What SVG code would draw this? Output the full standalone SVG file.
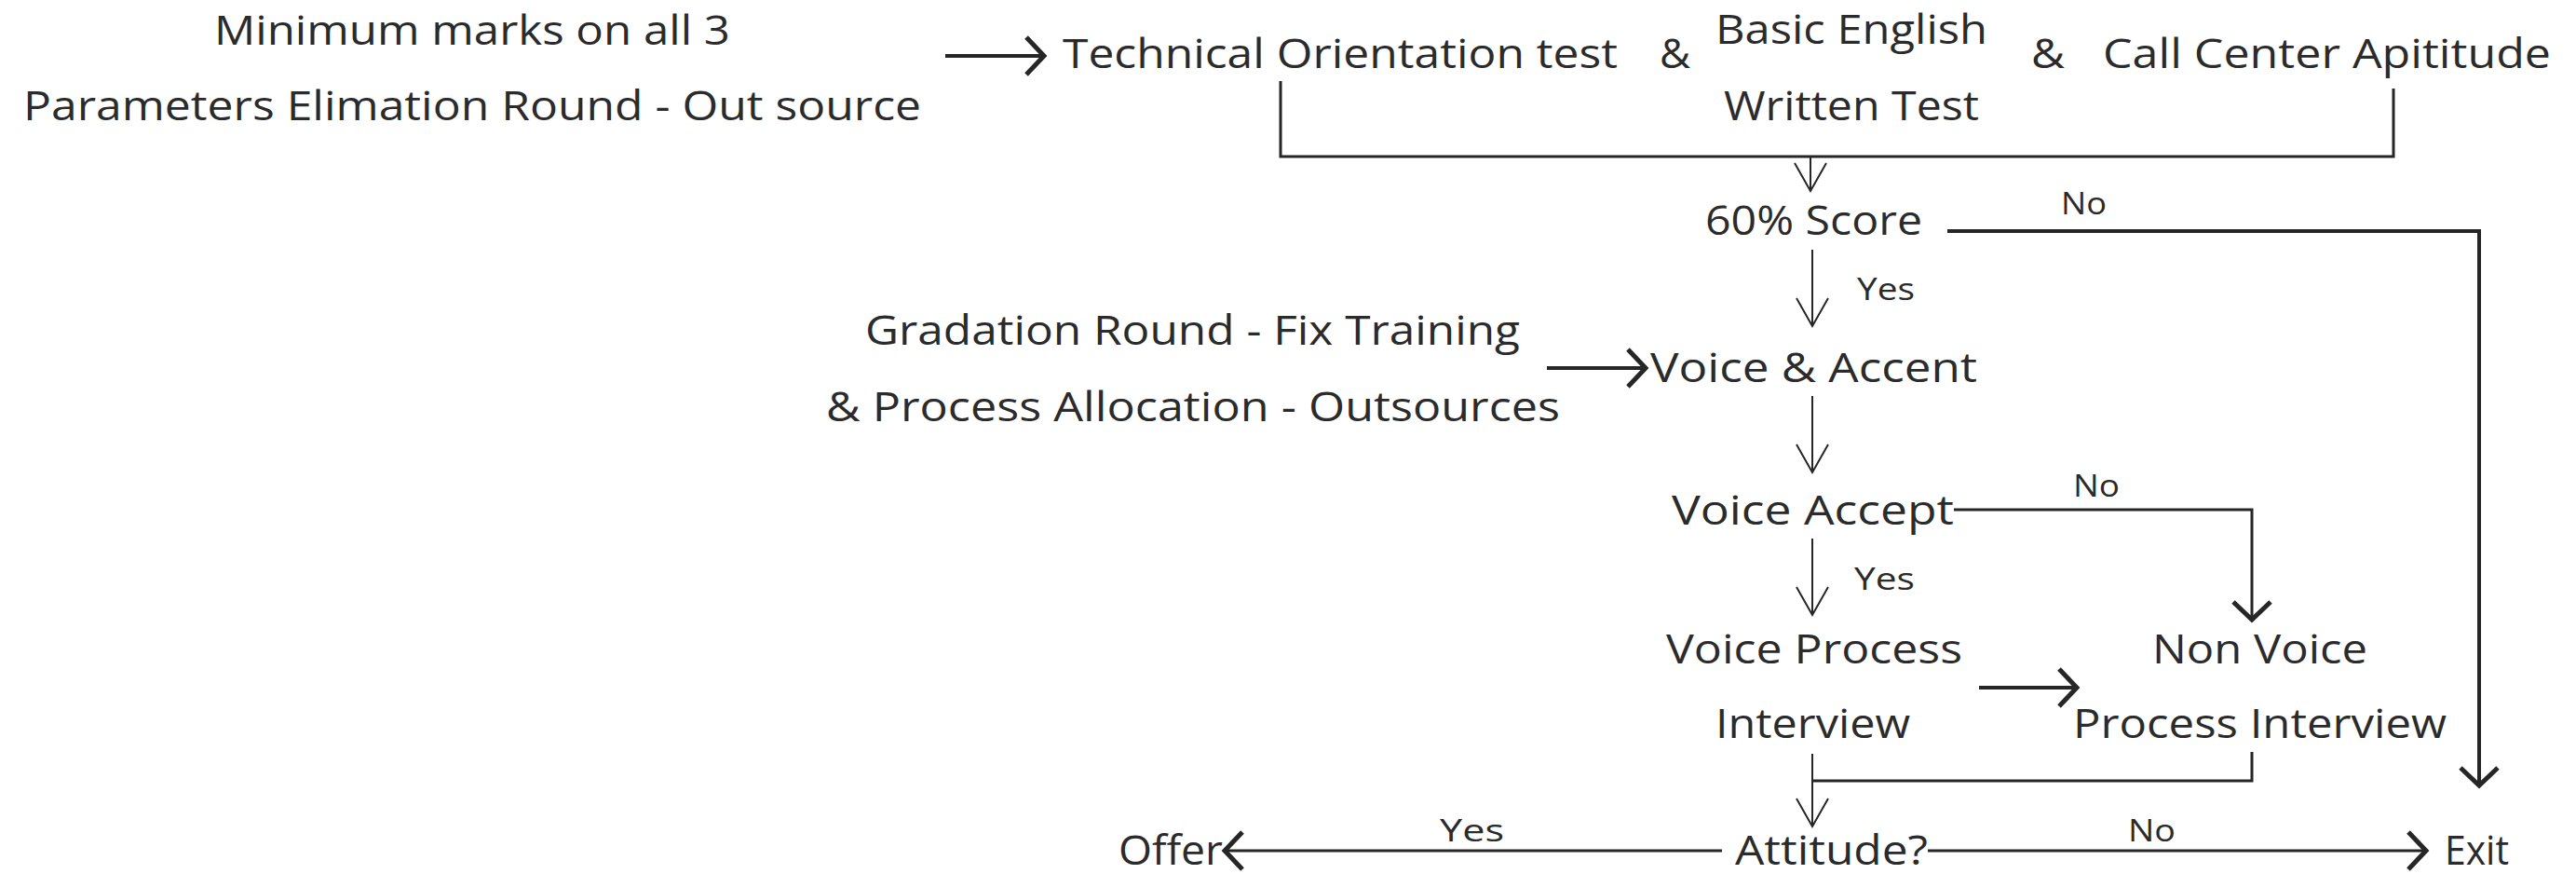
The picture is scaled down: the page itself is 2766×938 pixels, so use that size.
<svg xmlns="http://www.w3.org/2000/svg" width="2766" height="938" viewBox="0 0 2766 938">
<style>
.t{font-family:"Open Sans","Liberation Sans",sans-serif;font-size:44px;fill:#2b2b2b}
.l{font-family:"Open Sans","Liberation Sans",sans-serif;font-size:32px;fill:#2b2b2b}
.c{fill:none;stroke:#262626;stroke-width:3}
.thin{stroke-width:2}
.bold{stroke-width:4}
</style>
<defs>
<marker id="mThin" markerUnits="userSpaceOnUse" orient="auto" overflow="visible" markerWidth="40" markerHeight="40" refX="0" refY="0">
<path d="M-30,-17 L0,0 L-30,17" fill="none" stroke="#262626" stroke-width="2"/>
</marker>
<marker id="mThick" markerUnits="userSpaceOnUse" orient="auto" overflow="visible" markerWidth="40" markerHeight="40" refX="0" refY="0">
<path d="M-19,-20 L0,0 L-19,20" fill="none" stroke="#262626" stroke-width="5"/>
</marker>
</defs>
<rect width="2766" height="938" fill="#ffffff"/>
<g id="n-source1"><text class="t" x="230" y="48" textLength="554" lengthAdjust="spacingAndGlyphs">Minimum marks on all 3</text><text class="t" x="25" y="129" textLength="964" lengthAdjust="spacingAndGlyphs">Parameters Elimation Round - Out source</text></g>
<g id="n-tech"><text class="t" x="1141" y="73" textLength="596" lengthAdjust="spacingAndGlyphs">Technical Orientation test</text></g>
<g id="n-amp1"><text class="t" x="1782" y="73" textLength="33" lengthAdjust="spacingAndGlyphs">&amp;</text></g>
<g id="n-english"><text class="t" x="1842" y="47" textLength="292" lengthAdjust="spacingAndGlyphs">Basic English</text><text class="t" x="1851" y="129" textLength="274" lengthAdjust="spacingAndGlyphs">Written Test</text></g>
<g id="n-amp2"><text class="t" x="2181" y="73" textLength="36" lengthAdjust="spacingAndGlyphs">&amp;</text></g>
<g id="n-callcenter"><text class="t" x="2258" y="73" textLength="481" lengthAdjust="spacingAndGlyphs">Call Center Apititude</text></g>
<g id="n-score"><text class="t" x="1831" y="252" textLength="233" lengthAdjust="spacingAndGlyphs">60% Score</text></g>
<g id="n-source2"><text class="t" x="929" y="370" textLength="703" lengthAdjust="spacingAndGlyphs">Gradation Round - Fix Training</text><text class="t" x="887" y="452" textLength="788" lengthAdjust="spacingAndGlyphs">&amp; Process Allocation - Outsources</text></g>
<g id="n-voiceaccent"><text class="t" x="1772" y="410" textLength="351" lengthAdjust="spacingAndGlyphs">Voice &amp; Accent</text></g>
<g id="n-voiceaccept"><text class="t" x="1795" y="563" textLength="303" lengthAdjust="spacingAndGlyphs">Voice Accept</text></g>
<g id="n-voiceprocess"><text class="t" x="1789" y="712" textLength="318" lengthAdjust="spacingAndGlyphs">Voice Process</text><text class="t" x="1842" y="792" textLength="209" lengthAdjust="spacingAndGlyphs">Interview</text></g>
<g id="n-nonvoice"><text class="t" x="2311" y="712" textLength="231" lengthAdjust="spacingAndGlyphs">Non Voice</text><text class="t" x="2226" y="792" textLength="401" lengthAdjust="spacingAndGlyphs">Process Interview</text></g>
<g id="n-attitude"><text class="t" x="1863" y="928" textLength="207" lengthAdjust="spacingAndGlyphs">Attitude?</text></g>
<g id="n-offer"><text class="t" x="1201" y="928" textLength="112" lengthAdjust="spacingAndGlyphs">Offer</text></g>
<g id="n-exit"><text class="t" x="2625" y="928" textLength="69" lengthAdjust="spacingAndGlyphs">Exit</text></g>
<g id="connectors">
<line class="c bold" x1="1015" y1="60" x2="1121" y2="60" marker-end="url(#mThick)"/>
<polyline class="c" points="1375,87 1375,168 2570,168 2570,95"/>
<line class="c thin" x1="1944" y1="168" x2="1944" y2="205" marker-end="url(#mThin)"/>
<polyline class="c bold" points="2091,248 2662,248 2662,843" marker-end="url(#mThick)"/>
<text class="l" x="2213" y="230" textLength="49" lengthAdjust="spacingAndGlyphs">No</text>
<line class="c thin" x1="1946" y1="268" x2="1946" y2="350" marker-end="url(#mThin)"/>
<text class="l" x="1994" y="322" textLength="62" lengthAdjust="spacingAndGlyphs">Yes</text>
<line class="c bold" x1="1661" y1="395" x2="1767" y2="395" marker-end="url(#mThick)"/>
<line class="c thin" x1="1946" y1="425" x2="1946" y2="507" marker-end="url(#mThin)"/>
<polyline class="c" points="2098,547 2418,547 2418,665" marker-end="url(#mThick)"/>
<text class="l" x="2226" y="533" textLength="50" lengthAdjust="spacingAndGlyphs">No</text>
<line class="c thin" x1="1946" y1="578" x2="1946" y2="660" marker-end="url(#mThin)"/>
<text class="l" x="1991" y="633" textLength="65" lengthAdjust="spacingAndGlyphs">Yes</text>
<line class="c bold" x1="2125" y1="738" x2="2230" y2="738" marker-end="url(#mThick)"/>
<polyline class="c" points="2418,807 2418,838 1946,838"/>
<line class="c thin" x1="1946" y1="809" x2="1946" y2="887" marker-end="url(#mThin)"/>
<line class="c" x1="1849" y1="913" x2="1315" y2="913" marker-end="url(#mThick)"/>
<text class="l" x="1546" y="903" textLength="69" lengthAdjust="spacingAndGlyphs">Yes</text>
<line class="c" x1="2070" y1="913" x2="2605" y2="913" marker-end="url(#mThick)"/>
<text class="l" x="2285" y="903" textLength="51" lengthAdjust="spacingAndGlyphs">No</text>
</g>
</svg>
